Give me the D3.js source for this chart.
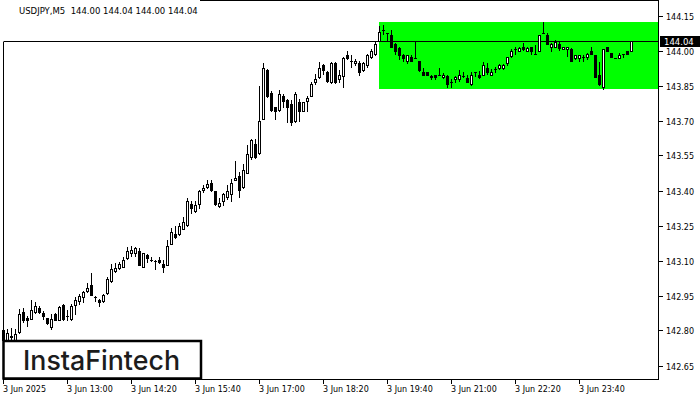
<!DOCTYPE html>
<html><head><meta charset="utf-8">
<script src="https://cdn.jsdelivr.net/npm/d3@7/dist/d3.min.js"></script>
<style>body{margin:0;background:#fff}svg{display:block}</style>
</head><body>
<svg id="chart" width="700" height="400"></svg>
<script>
const symbol = "USDJPY,M5";
const headerValues = ["144.00", "144.04", "144.00", "144.04"];

const open = [142.760,142.760,142.775,142.760,142.793,142.881,142.854,142.850,142.879,142.896,142.874,142.853,142.814,142.869,142.846,142.911,142.864,142.850,142.911,142.926,142.943,142.971,142.993,142.943,142.931,142.926,142.961,143.014,143.053,143.069,143.074,143.111,143.131,143.131,143.141,143.071,143.124,143.104,143.097,143.104,143.084,143.081,143.171,143.214,143.214,143.236,143.253,143.343,143.311,143.343,143.403,143.414,143.433,143.396,143.334,143.354,143.374,143.386,143.446,143.464,143.414,143.476,143.543,143.600,143.559,143.707,143.917,143.817,143.757,143.743,143.807,143.786,143.769,143.696,143.779,143.740,143.783,143.807,143.864,143.886,143.939,143.910,143.864,143.947,143.879,143.889,143.979,143.953,143.946,143.946,143.917,143.936,143.971,143.986,144.039,144.087,144.075,144.067,144.029,144.010,143.979,143.957,143.974,143.969,143.957,143.910,143.910,143.889,143.896,143.896,143.886,143.889,143.864,143.876,143.879,143.890,143.881,143.857,143.907,143.896,143.896,143.926,143.896,143.921,143.924,143.924,143.946,143.976,144.006,144.000,144.017,144.000,144.017,143.986,143.997,144.075,144.067,144.014,144.017,144.029,144.007,144.007,144.007,143.967,143.967,143.971,143.974,144.000,143.979,143.896,143.843,144.017,143.989,143.969,143.967,143.986,144.000,144.000];
const high = [142.811,142.806,142.811,142.806,142.891,142.897,142.864,142.931,142.921,142.907,142.883,142.854,142.871,142.874,142.903,142.914,142.886,142.914,142.943,142.957,142.969,143.003,143.046,142.946,142.936,142.957,143.031,143.086,143.089,143.093,143.114,143.157,143.163,143.160,143.154,143.134,143.129,143.114,143.104,143.114,143.103,143.186,143.239,143.246,143.260,143.286,143.367,143.357,143.357,143.404,143.424,143.447,143.447,143.397,143.367,143.389,143.424,143.450,143.526,143.479,143.514,143.597,143.621,143.620,143.847,143.946,143.921,143.826,143.760,143.829,143.814,143.793,143.786,143.821,143.793,143.781,143.807,143.864,143.900,143.950,143.943,143.914,143.950,143.950,143.917,143.974,144.000,143.979,143.964,143.957,143.950,143.986,144.007,144.036,144.107,144.111,144.077,144.086,144.031,144.014,143.986,143.981,143.979,144.039,143.957,143.924,143.910,143.896,143.896,143.926,143.904,143.893,143.879,143.889,143.917,143.910,143.893,143.907,143.907,143.914,143.950,143.946,143.921,143.931,143.943,143.943,143.971,144.007,144.017,144.017,144.031,144.014,144.017,144.024,144.067,144.121,144.076,144.031,144.046,144.036,144.017,144.017,144.011,143.979,143.979,143.981,143.989,144.017,143.979,143.950,144.007,144.017,143.989,143.969,143.989,143.986,144.000,144.040];
const low = [142.750,142.755,142.757,142.756,142.790,142.836,142.821,142.849,142.874,142.874,142.849,142.826,142.807,142.843,142.843,142.846,142.843,142.846,142.871,142.914,142.921,142.964,142.953,142.926,142.903,142.921,142.957,143.007,143.049,143.064,143.071,143.107,143.121,143.121,143.079,143.071,143.093,143.100,143.064,143.090,143.050,143.079,143.169,143.197,143.211,143.233,143.250,143.303,143.309,143.324,143.393,143.411,143.400,143.340,143.331,143.340,143.364,143.354,143.443,143.371,143.411,143.473,143.536,143.540,143.555,143.707,143.800,143.740,143.707,143.739,143.757,143.693,143.679,143.693,143.700,143.739,143.740,143.803,143.857,143.883,143.900,143.864,143.860,143.860,143.864,143.843,143.964,143.929,143.936,143.893,143.914,143.931,143.969,143.979,144.039,144.072,144.043,144.014,143.986,143.964,143.953,143.947,143.954,143.967,143.914,143.896,143.893,143.879,143.876,143.893,143.883,143.843,143.843,143.864,143.871,143.886,143.864,143.854,143.889,143.883,143.893,143.900,143.893,143.907,143.921,143.921,143.936,143.971,143.986,143.996,144.003,143.996,143.983,143.986,143.997,144.074,144.026,143.996,144.014,144.004,144.007,143.976,143.954,143.964,143.954,143.954,143.964,143.983,143.886,143.854,143.833,143.997,143.974,143.968,143.967,143.974,143.986,144.000];
const close = [142.803,142.789,142.774,142.783,142.871,142.843,142.843,142.886,142.907,142.879,142.860,142.831,142.850,142.846,142.900,142.850,142.860,142.903,142.931,142.946,142.963,142.983,142.954,142.942,142.921,142.953,143.021,143.064,143.067,143.086,143.103,143.140,143.143,143.154,143.081,143.131,143.110,143.103,143.096,143.093,143.071,143.164,143.224,143.200,143.246,143.267,143.357,143.324,143.336,143.396,143.410,143.426,143.403,143.343,143.346,143.386,143.396,143.433,143.454,143.403,143.486,143.557,143.617,143.545,143.696,143.926,143.803,143.743,143.739,143.814,143.783,143.757,143.693,143.814,143.739,143.779,143.797,143.857,143.879,143.926,143.917,143.871,143.946,143.864,143.897,143.969,143.969,143.957,143.957,143.907,143.946,143.979,144.000,144.029,144.079,144.089,144.076,144.014,143.996,143.981,143.967,143.979,143.957,143.968,143.917,143.896,143.896,143.888,143.886,143.895,143.897,143.857,143.863,143.886,143.896,143.889,143.864,143.896,143.906,143.886,143.939,143.907,143.910,143.922,143.939,143.939,143.971,144.000,144.007,144.010,144.007,144.010,143.997,143.985,144.067,144.074,144.029,144.029,144.036,144.011,144.017,144.017,143.954,143.979,143.979,143.972,143.986,143.986,143.886,143.857,144.007,143.997,143.974,143.968,143.979,143.985,143.986,144.040];

const yTickValues = [144.15, 144.00, 143.85, 143.70, 143.55, 143.40, 143.25, 143.10, 142.95, 142.80, 142.65];
const xTickIndex = [0, 16, 32, 48, 64, 80, 96, 112, 128, 144];
const xTickLabels = ["3 Jun 2025", "3 Jun 13:00", "3 Jun 14:20", "3 Jun 15:40", "3 Jun 17:00", "3 Jun 18:20", "3 Jun 19:40", "3 Jun 21:00", "3 Jun 22:20", "3 Jun 23:40"];
const lastPrice = 144.04;
const patternTop = 144.121;
const patternBottom = 143.837;
const patternStart = 94;
const logoText = "InstaFintech";

const svg = d3.select("#chart");
const W = 700, H = 400;
const left = 3.5, right = 658.5, bottom = 379.5;

const x = d3.scaleLinear().domain([-0.125, 163.625]).range([3, 658]);
const y = d3.scaleLinear().domain([142.65, 144.15]).range([365.5, 15.5]);
const py = v => Math.round(y(v)) + 0.5;

const data = open.map((o, i) => ({i, o, h: high[i], l: low[i], c: close[i]}));

// pattern rectangle
svg.append("rect")
  .attr("x", x(patternStart) - 0.5)
  .attr("y", Math.round(y(patternTop)))
  .attr("width", right - (x(patternStart) - 0.5))
  .attr("height", Math.round(y(patternBottom)) - Math.round(y(patternTop)))
  .attr("fill", "#00ff00");

// last price line
svg.append("line")
  .attr("x1", left).attr("x2", right)
  .attr("y1", py(lastPrice)).attr("y2", py(lastPrice))
  .attr("stroke", "#000").attr("stroke-width", 1);

// candles
const g = svg.append("g").attr("shape-rendering", "crispEdges");
g.selectAll("line.wick").data(data).join("line")
  .attr("class", "wick")
  .attr("x1", d => x(d.i)).attr("x2", d => x(d.i))
  .attr("y1", d => py(d.h) - 0.5).attr("y2", d => py(d.l) + 0.5)
  .attr("stroke", "#000").attr("stroke-width", 1);

data.forEach(d => {
  const t = py(Math.max(d.o, d.c)), b = py(Math.min(d.o, d.c));
  if (b - t < 1) {
    g.append("line")
      .attr("x1", x(d.i) - 1.5).attr("x2", x(d.i) + 1.5)
      .attr("y1", t).attr("y2", t)
      .attr("stroke", "#000").attr("stroke-width", 1);
  } else {
    g.append("rect")
      .attr("x", x(d.i) - 1).attr("width", 2)
      .attr("y", t).attr("height", b - t)
      .attr("fill", d.c >= d.o ? "#fff" : "#000")
      .attr("stroke", "#000").attr("stroke-width", 1);
  }
});

// frame
const frame = svg.append("g").attr("stroke", "#000").attr("stroke-width", 1).attr("shape-rendering", "crispEdges");
frame.append("line").attr("x1", left).attr("x2", left).attr("y1", py(lastPrice)).attr("y2", bottom);
frame.append("line").attr("x1", right).attr("x2", right).attr("y1", 0).attr("y2", bottom + 0.5);
frame.append("line").attr("x1", left).attr("x2", right).attr("y1", bottom).attr("y2", bottom);
frame.append("line").attr("x1", 200).attr("x2", right).attr("y1", 0.5).attr("y2", 0.5);

const font = "'DejaVu Sans', Verdana, sans-serif";

// y axis
const yAxis = svg.append("g");
yTickValues.forEach(v => {
  yAxis.append("line").attr("x1", right).attr("x2", right + 4)
    .attr("y1", py(v)).attr("y2", py(v)).attr("stroke", "#000").attr("shape-rendering", "crispEdges");
  yAxis.append("text").attr("x", 666).attr("y", py(v) + 3)
    .attr("font-family", font).attr("font-size", 8).attr("fill", "#000")
    .text(v.toFixed(2));
});

// x axis
const xAxis = svg.append("g");
xTickIndex.forEach((ti, k) => {
  xAxis.append("line").attr("x1", Math.floor(x(ti)) + 0.5).attr("x2", Math.floor(x(ti)) + 0.5)
    .attr("y1", bottom).attr("y2", bottom + 4).attr("stroke", "#000").attr("shape-rendering", "crispEdges");
  xAxis.append("text").attr("x", Math.floor(x(ti))).attr("y", 392)
    .attr("font-family", font).attr("font-size", 8).attr("fill", "#000")
    .text(xTickLabels[k]);
});

// last price label
svg.append("rect").attr("x", right + 1.5).attr("y", py(lastPrice) - 5.5).attr("width", W - right).attr("height", 11).attr("fill", "#000");
svg.append("text").attr("x", 664).attr("y", py(lastPrice) + 3.5)
  .attr("font-family", font).attr("font-size", 8.5).attr("fill", "#fff")
  .text(lastPrice.toFixed(2));

// header
svg.append("text").attr("x", 19).attr("y", 14)
  .attr("font-family", font).attr("font-size", 8.5).attr("fill", "#000")
  .attr("xml:space", "preserve")
  .text(symbol + "  " + headerValues.join(" "));

// logo
svg.append("rect").attr("x", 3.5).attr("y", 341).attr("width", 197.5).attr("height", 37.5)
  .attr("fill", "#fff").attr("stroke", "#000").attr("stroke-width", 2.5);
svg.append("text").attr("x", 23).attr("y", 370)
  .attr("font-family", "Inter, 'Open Sans', sans-serif").attr("font-weight", 500)
  .attr("font-size", 27.5).attr("fill", "#1c1c1c")
  .attr("textLength", 157).attr("lengthAdjust", "spacingAndGlyphs")
  .text(logoText);
</script>
</body></html>
